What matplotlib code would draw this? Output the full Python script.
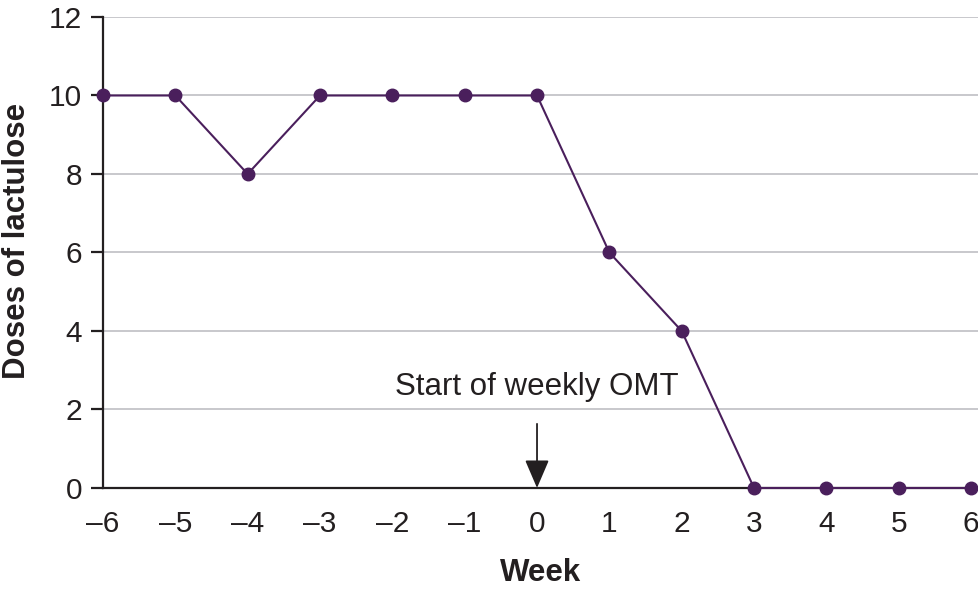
import numpy as np
import matplotlib.pyplot as plt

plt.rcParams['font.family'] = ['Liberation Sans', 'DejaVu Sans']

# data
weeks = [-6, -5, -4, -3, -2, -1, 0, 1, 2, 3, 4, 5, 6]
doses = [10, 10, 8, 10, 10, 10, 10, 6, 4, 0, 0, 0, 0]
week_labels = ['\u20136', '\u20135', '\u20134', '\u20133', '\u20132', '\u20131',
               '0', '1', '2', '3', '4', '5', '6']
y_ticks = [0, 2, 4, 6, 8, 10, 12]

purple = '#4a1f5c'
ink = '#231f20'

fig = plt.figure(figsize=(9.79, 5.9), dpi=100)
ax = fig.add_axes([0.1052, 0.1729, 0.8948, 0.7983])

# grid lines
for y in y_ticks[1:]:
    ax.axhline(y, color='#c4c4c8', lw=1.3, zorder=1)

ax.plot(weeks, doses, color=purple, lw=1.5, marker='o', ms=9,
        zorder=3, clip_on=False)

ax.set_xlim(-6, 6.11)
ax.set_ylim(0, 12)

for s in ['top', 'right']:
    ax.spines[s].set_visible(False)
for s in ['left', 'bottom']:
    ax.spines[s].set_linewidth(1.6)
    ax.spines[s].set_color(ink)

ax.set_xticks(weeks)
ax.set_xticklabels(week_labels)
ax.set_yticks(y_ticks)
ax.tick_params(axis='x', length=0, pad=16, labelsize=21.5, colors=ink)
ax.tick_params(axis='y', length=9, width=1.6, pad=6, labelsize=21.5, colors=ink)

ax.set_xlabel('Week', fontsize=22.5, fontweight='bold', labelpad=14, color=ink)
fig.text(0.0174, 0.5915, 'Doses of lactulose', rotation=90, ha='center', va='center',
         fontsize=22.5, fontweight='bold', color=ink)

# annotation
ax.annotate('Start of weekly OMT', xy=(0, 0.0), xytext=(0, 2.2),
            ha='center', va='bottom', fontsize=22.5, color=ink,
            arrowprops=dict(arrowstyle='-|>,head_length=0.7,head_width=0.3',
                            color=ink, lw=1.3,
                            mutation_scale=25, shrinkA=14, shrinkB=0))

fig.savefig('out.png', dpi=100)
